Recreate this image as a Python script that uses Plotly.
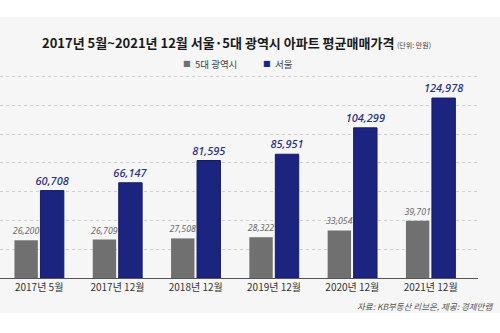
import plotly.graph_objects as go

categories = ["2017년 5월", "2017년 12월", "2018년 12월", "2019년 12월", "2020년 12월", "2021년 12월"]
metro_name = "5대 광역시"
metro_values = [26200, 26709, 27508, 28322, 33054, 39701]
seoul_name = "서울"
seoul_values = [60708, 66147, 81595, 85951, 104299, 124978]

title_text = "2017년 5월~2021년 12월 서울·5대 광역시 아파트 평균매매가격"
unit_text = "(단위: 만원)"
source_text = "자료: KB부동산 리브온, 제공: 경제만랩"

W, H = 500, 333
ML, MR, MT, MB = 0, 22, 75, 55
plot_w = W - ML - MR
plot_h = H - MT - MB

GRAY = "#707070"
NAVY = "#1b2580"
KR = "Noto Sans CJK KR"


def px_x(p):
    return (p - ML) / plot_w


def px_y(p):
    return (H - MB - p) / plot_h


fig = go.Figure()
fig.add_trace(go.Bar(
    x=categories, y=metro_values, name=metro_name,
    marker=dict(color=GRAY, line=dict(width=0)),
    texttemplate="%{y:,}", textposition="outside", cliponaxis=False,
    constraintext="none",
    textfont=dict(family="Noto Sans", size=8.8, color="#6a6a6a", style="italic"),
))
fig.add_trace(go.Bar(
    x=categories, y=seoul_values, name=seoul_name,
    marker=dict(color=NAVY, line=dict(color="#141c66", width=1)),
    texttemplate="%{y:,}", textposition="outside", cliponaxis=False,
    constraintext="none",
    textfont=dict(family="Noto Sans", size=11, color="#27317f", style="italic", weight=500),
))

annotations = [
    dict(text=title_text, x=px_x(40), y=px_y(43), xref="paper", yref="paper",
         xanchor="left", yanchor="middle", showarrow=False,
         font=dict(family=KR, size=13, color="#1a1a1a", weight=700)),
    dict(text=unit_text, x=px_x(395), y=px_y(45), xref="paper", yref="paper",
         xanchor="left", yanchor="middle", showarrow=False,
         font=dict(family=KR, size=7, color="#444444")),
    dict(text=source_text, x=px_x(495), y=px_y(306), xref="paper", yref="paper",
         xanchor="right", yanchor="middle", showarrow=False,
         font=dict(family=KR, size=8.5, color="#555555", style="italic")),
    # legend
    dict(text="■", x=px_x(181), y=px_y(64), xref="paper", yref="paper",
         xanchor="left", yanchor="middle", showarrow=False,
         font=dict(family="DejaVu Sans", size=8, color=GRAY)),
    dict(text=metro_name, x=px_x(193), y=px_y(64), xref="paper", yref="paper",
         xanchor="left", yanchor="middle", showarrow=False,
         font=dict(family=KR, size=9.5, color="#444444")),
    dict(text="■", x=px_x(261), y=px_y(64), xref="paper", yref="paper",
         xanchor="left", yanchor="middle", showarrow=False,
         font=dict(family="DejaVu Sans", size=8, color=NAVY)),
    dict(text=seoul_name, x=px_x(273), y=px_y(64), xref="paper", yref="paper",
         xanchor="left", yanchor="middle", showarrow=False,
         font=dict(family=KR, size=9.5, color="#444444")),
]

shapes = [
    dict(type="rect", xref="paper", yref="paper", layer="below",
         x0=px_x(0), x1=px_x(W), y0=px_y(313), y1=px_y(17),
         fillcolor="#f6f6f6", line=dict(width=0)),
]

fig.update_layout(
    width=W, height=H,
    margin=dict(l=ML, r=MR, t=MT, b=MB, pad=0),
    paper_bgcolor="white", plot_bgcolor="rgba(0,0,0,0)",
    barmode="group", bargap=0.336, bargroupgap=0.1,
    showlegend=False,
    annotations=annotations, shapes=shapes,
    xaxis=dict(range=[-0.5, 5.605], showline=True, linecolor="#555555", linewidth=1,
               ticks="", showgrid=False,
               tickfont=dict(family=KR, size=10, color="#333333")),
    yaxis=dict(range=[0, 141000], dtick=20000, showticklabels=False,
               showgrid=True, gridcolor="#d0d0d0", griddash="dot", gridwidth=1,
               zeroline=False, showline=False),
)

fig.write_html("out.html")
